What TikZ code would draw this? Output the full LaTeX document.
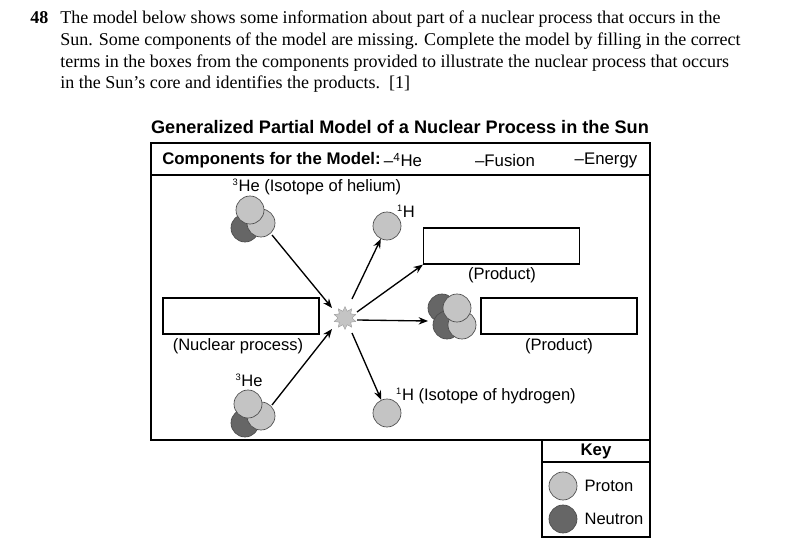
\documentclass[tikz,border=0pt]{standalone}
\usepackage{fontspec}
\setmainfont{Liberation Serif}
\setsansfont{Liberation Sans}
\usetikzlibrary{shapes.geometric,arrows.meta}
\definecolor{lg}{HTML}{C4C4C4}
\definecolor{dg}{HTML}{666666}
\begin{document}
\begin{tikzpicture}[x=0.75pt,y=-0.75pt,
  prot/.style={circle,draw=black!70,fill=lg,minimum size=21pt,inner sep=0pt,line width=0.5pt},
  neut/.style={circle,draw=black!70,fill=dg,minimum size=21pt,inner sep=0pt,line width=0.5pt},
  blank/.style={draw,line width=0.9pt,minimum width=117pt,minimum height=27pt,inner sep=0pt},
  lab/.style={font=\sffamily\fontsize{12.4}{14}\selectfont,inner sep=0pt},
  hd/.style={font=\sffamily\fontsize{12.6}{14}\selectfont,inner sep=0pt},
  arr/.style={-{Stealth[length=7pt,width=5.5pt]},line width=1pt},
  qt/.style={anchor=base west,inner sep=0pt,font=\fontsize{13.5}{16}\selectfont}]
\useasboundingbox (0,0) rectangle (800,550);
% question
\node[qt,font=\bfseries\fontsize{13.5}{16}\selectfont] (num) at (30,23) {48};
\node[qt] (q1) at (60,23) {The model below shows some information about part of a nuclear process that occurs in the};
\node[qt] (q2) at (60,45) {Sun. Some components of the model are missing. Complete the model by filling in the correct};
\node[qt] (q3) at (60,67) {terms in the boxes from the components provided to illustrate the nuclear process that occurs};
\node[qt] (q4) at (60,88) {in the Sun’s core and identifies the products.\enspace [1]};
\node[font=\sffamily\bfseries\fontsize{13.6}{16}\selectfont] (title) at (400,127) {Generalized Partial Model of a Nuclear Process in the Sun};
% frames
\draw[line width=0.9pt] (151,143) rectangle (650,440);
\draw[line width=0.9pt] (151,175) -- (650,175);
\draw[line width=0.9pt] (542,440) rectangle (650,537);
\draw[line width=0.9pt] (542,462) -- (650,462);
\node[hd,font=\sffamily\bfseries\fontsize{12.6}{14}\selectfont,anchor=west] (comp) at (162,160) {Components for the Model:};
\node[hd] (c1) at (403,160) {–\textsuperscript{4}He};
\node[hd] (c2) at (505,160) {–Fusion};
\node[hd] (c3) at (606,160) {–Energy};
\node[hd,font=\sffamily\bfseries\fontsize{12.6}{14}\selectfont] (key) at (596,451) {Key};
\node[prot] (kp) at (563,486) {};
\node[neut] (kn) at (563,519) {};
\node[lab] (kpl) at (609,486) {Proton};
\node[lab] (knl) at (614,519) {Neutron};
% top 3He
\node[neut] (t3) at (245,228) {};
\node[prot] (t2) at (261,223) {};
\node[prot] (t1) at (250,210) {};
\node[lab] (tl) at (317,187) {\textsuperscript{\scriptsize 3}He (Isotope of helium)};
% bottom 3He
\node[neut] (b3) at (245,423) {};
\node[prot] (b2) at (261,416) {};
\node[prot] (b1) at (248,404) {};
\node[lab] (bl) at (249,380) {\textsuperscript{\scriptsize 3}He};
% 1H
\node[prot] (h1) at (387,226) {};
\node[lab] (h1l) at (406,211) {\textsuperscript{\scriptsize 1}H};
\node[prot] (h2) at (387,413) {};
\node[lab] (h2l) at (486,396) {\textsuperscript{\scriptsize 1}H (Isotope of hydrogen)};
% 4He
\node[neut] (a1) at (442,308) {};
\node[neut] (a2) at (447,325) {};
\node[prot] (a3) at (462,325) {};
\node[prot] (a4) at (457,308) {};
% star
\node[star,star points=10,star point ratio=1.6,fill=lg,draw=black!40,line width=0.3pt,minimum size=17pt,inner sep=0pt] (s) at (345,318) {};
% boxes
\node[blank] (np) at (241,316) {};
\node[lab] (npl) at (238,346) {(Nuclear process)};
\node[blank] (p1) at (501.5,246) {};
\node[lab] (p1l) at (502,275) {(Product)};
\node[blank] (p2) at (559,316) {};
\node[lab] (p2l) at (559,346) {(Product)};
% arrows
\coordinate (e1) at (332,308);
\coordinate (e2) at (332,329);
\draw[arr] (272,235) -- (e1);
\draw[arr] (272,405) -- (e2);
\draw[arr] (352,299) -- (h1);
\draw[arr] (357,312) -- (p1.south west);
\draw[arr] (357,320) -- (428,321);
\draw[arr] (352,333) -- (h2);
\end{tikzpicture}
\end{document}
